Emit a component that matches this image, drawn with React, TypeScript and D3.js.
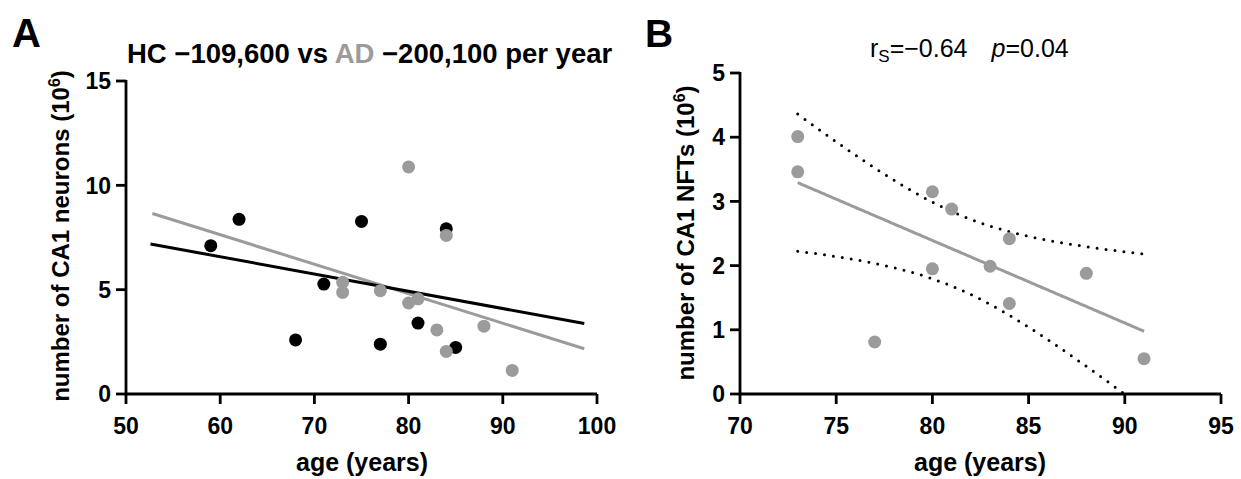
import React from 'react';
import * as d3 from 'd3';

// Panel A: CA1 neurons (10^6) vs age
const hcAge = [59, 62, 68, 71, 75, 77, 81, 84, 85];
const hcNeurons = [7.11, 8.37, 2.59, 5.27, 8.27, 2.39, 3.4, 7.92, 2.23];
const adAge = [73, 73, 77, 80, 80, 81, 83, 84, 84, 88, 91];
const adNeurons = [5.35, 4.87, 4.95, 10.88, 4.36, 4.56, 3.07, 7.6, 2.04, 3.25, 1.13];

// fitted lines as drawn in panel A (age, value at both ends)
const hcFitAge = [52.6, 98.65];
const hcFitVal = [7.19, 3.38];
const adFitAge = [52.8, 98.65];
const adFitVal = [8.65, 2.17];

// Panel B: CA1 NFTs (10^6) vs age, AD only
const adNfts = [4.01, 3.46, 0.81, 3.15, 1.95, 2.88, 1.99, 2.42, 1.41, 1.88, 0.55];

const aXTicks = [50, 60, 70, 80, 90, 100];
const aYTicks = [0, 5, 10, 15];
const bXTicks = [70, 75, 80, 85, 90, 95];
const bYTicks = [0, 1, 2, 3, 4, 5];

const T_975_DF9 = 2.262; // t quantile for 95% CI, n = 11

const FONT = '"Liberation Sans", Arial, Helvetica, sans-serif';
const GRAY = '#9b9b9b';
const AXIS_W = 2.8;

// plain least squares + 95% confidence band of the mean
function linearFit(xs: number[], ys: number[]) {
  const n = xs.length;
  const mx = d3.mean(xs)!;
  const my = d3.mean(ys)!;
  const sxx = d3.sum(xs, x => (x - mx) ** 2);
  const sxy = d3.sum(xs, (x, i) => (x - mx) * (ys[i] - my));
  const slope = sxy / sxx;
  const icpt = my - slope * mx;
  const sse = d3.sum(xs, (x, i) => (ys[i] - (icpt + slope * x)) ** 2);
  const s = Math.sqrt(sse / (n - 2));
  const predict = (x: number) => icpt + slope * x;
  const halfWidth = (x: number) => T_975_DF9 * s * Math.sqrt(1 / n + (x - mx) ** 2 / sxx);
  return { predict, halfWidth };
}

type AxesProps = {
  x: d3.ScaleLinear<number, number>;
  y: d3.ScaleLinear<number, number>;
  xTicks: number[];
  yTicks: number[];
};

function Axes({ x, y, xTicks, yTicks }: AxesProps) {
  const [x0, x1] = x.range();
  const [y0, y1] = y.range();
  const tick = 10;
  return (
    <g fontFamily={FONT} fontWeight="bold" fontSize={23} fill="#000">
      <path
        d={`M${x0},${y1 - 1}V${y0}H${x1}`}
        fill="none"
        stroke="#000"
        strokeWidth={AXIS_W}
        strokeLinejoin="miter"
      />
      {xTicks.map(t => (
        <g key={'x' + t}>
          <line x1={x(t)} x2={x(t)} y1={y0} y2={y0 + tick} stroke="#000" strokeWidth={AXIS_W} />
          <text x={x(t)} y={y0 + 40} textAnchor="middle">{t}</text>
        </g>
      ))}
      {yTicks.map(t => (
        <g key={'y' + t}>
          <line x1={x0 - tick} x2={x0} y1={y(t)} y2={y(t)} stroke="#000" strokeWidth={AXIS_W} />
          <text x={x0 - 15} y={y(t)} dy="0.36em" textAnchor="end">{t}</text>
        </g>
      ))}
    </g>
  );
}

function YLabel({ x, y, text }: { x: number; y: number; text: string }) {
  return (
    <text
      transform={`translate(${x},${y}) rotate(-90)`}
      textAnchor="middle"
      fontFamily={FONT}
      fontWeight="bold"
      fontSize={24}
    >
      {text} (10<tspan dy={-9} fontSize={16}>6</tspan><tspan dy={9}>)</tspan>
    </text>
  );
}

export default function App() {
  // panel A
  const xA = d3.scaleLinear().domain([50, 100]).range([126, 597]);
  const yA = d3.scaleLinear().domain([0, 15]).range([394, 81]);
  const lineA = d3.line<[number, number]>().x(d => xA(d[0])).y(d => yA(d[1]));
  const hcLine = lineA(hcFitAge.map((a, i) => [a, hcFitVal[i]]));
  const adLine = lineA(adFitAge.map((a, i) => [a, adFitVal[i]]));

  // panel B
  const xB = d3.scaleLinear().domain([70, 95]).range([740, 1221]);
  const yB = d3.scaleLinear().domain([0, 5]).range([394, 73]);
  const fit = linearFit(adAge, adNfts);
  const [ageMin, ageMax] = d3.extent(adAge) as [number, number];
  const grid = d3.range(ageMin, ageMax + 0.001, 0.1);
  const fitPath = d3.line<number>().x(a => xB(a)).y(a => yB(fit.predict(a)))(grid);
  const upperPath = d3.line<number>().x(a => xB(a)).y(a => yB(fit.predict(a) + fit.halfWidth(a)))(grid);
  const lowerPath = d3.line<number>().x(a => xB(a)).y(a => yB(fit.predict(a) - fit.halfWidth(a)))(grid);

  const r = 6.5;

  return (
    <svg
      width={1241}
      height={479}
      style={{ position: 'absolute', left: 0, top: 0, background: '#fff' }}
    >
      <defs>
        <clipPath id="clipB">
          <rect x={740} y={60} width={490} height={334} />
        </clipPath>
      </defs>

      {/* ---------- Panel A ---------- */}
      <text x={12} y={47} fontFamily={FONT} fontWeight="bold" fontSize={40}>A</text>
      <text x={127} y={63} fontFamily={FONT} fontWeight="bold" fontSize={27.5}>
        HC −109,600 vs <tspan fill={GRAY}>AD</tspan> −200,100 per year
      </text>

      <Axes x={xA} y={yA} xTicks={aXTicks} yTicks={aYTicks} />

      <path d={adLine!} fill="none" stroke={GRAY} strokeWidth={3} />
      <path d={hcLine!} fill="none" stroke="#000" strokeWidth={3} />

      {hcAge.map((a, i) => (
        <circle key={'hc' + i} cx={xA(a)} cy={yA(hcNeurons[i])} r={r} fill="#000" />
      ))}
      {adAge.map((a, i) => (
        <circle key={'ad' + i} cx={xA(a)} cy={yA(adNeurons[i])} r={r} fill={GRAY} />
      ))}

      <YLabel x={69} y={236} text="number of CA1 neurons" />
      <text x={362} y={471} textAnchor="middle" fontFamily={FONT} fontWeight="bold" fontSize={25}>
        age (years)
      </text>

      {/* ---------- Panel B ---------- */}
      <text x={645} y={47} fontFamily={FONT} fontWeight="bold" fontSize={39}>B</text>
      <text x={870} y={57} fontFamily={FONT} fontSize={25}>
        r<tspan dy={5} fontSize={17}>S</tspan>
        <tspan dy={-5}>=−0.64</tspan>
        <tspan dx={24} fontStyle="italic">p</tspan>
        <tspan>=0.04</tspan>
      </text>

      <Axes x={xB} y={yB} xTicks={bXTicks} yTicks={bYTicks} />

      <g clipPath="url(#clipB)" fill="none" stroke="#000" strokeWidth={3} strokeLinecap="round" strokeDasharray="0 9">
        <path d={upperPath!} />
        <path d={lowerPath!} />
      </g>
      <path d={fitPath!} fill="none" stroke={GRAY} strokeWidth={3} />

      {adAge.map((a, i) => (
        <circle key={'b' + i} cx={xB(a)} cy={yB(adNfts[i])} r={r} fill={GRAY} />
      ))}

      <YLabel x={694} y={233} text="number of CA1 NFTs" />
      <text x={980} y={471} textAnchor="middle" fontFamily={FONT} fontWeight="bold" fontSize={25}>
        age (years)
      </text>
    </svg>
  );
}
